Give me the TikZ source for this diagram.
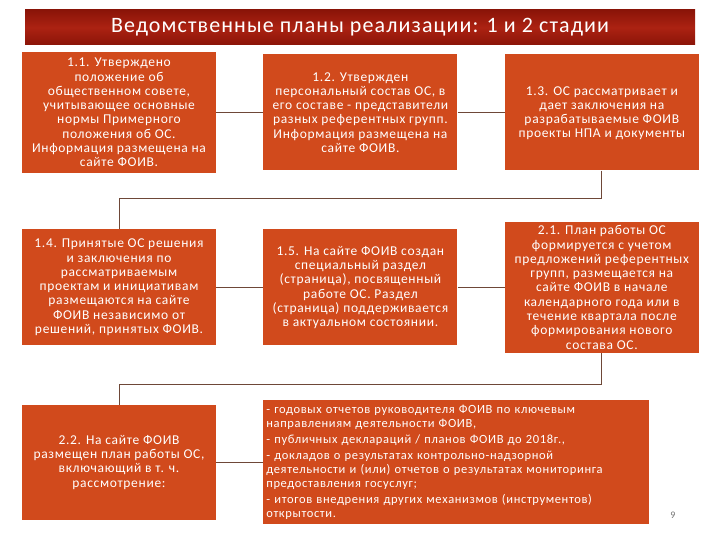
\documentclass[tikz,border=0pt]{standalone}
\usepackage{fontspec}
\setmainfont{Carlito}
\newfontfamily\widefont[LetterSpace=5]{Carlito}
\usepackage{tikz}
\usetikzlibrary{positioning}
\definecolor{boxred}{RGB}{209,74,28}
\definecolor{titlered}{RGB}{172,34,18}
\definecolor{titledark}{RGB}{138,20,8}
\definecolor{linkbrown}{RGB}{110,72,56}

\begin{document}
\begin{tikzpicture}[x=1pt,y=-1pt,
    stage/.style={align=center,fill=boxred,text=white,minimum width=194pt,inner sep=1pt,
        font=\widefont\fontsize{13.5}{14.3}\selectfont},
    link/.style={draw=linkbrown,line width=0.8pt}]
    \useasboundingbox (0,0) rectangle (720,540);
    \shade[top color=titledark,bottom color=titledark,middle color=titlered] (25,10) rectangle (695,45);
    \draw
        node[text=white,font=\widefont\fontsize{22}{26}\selectfont] (title) at (360,27.5) {Ведомственные планы реализации: 1 и 2 стадии}

        node[stage,minimum height=121pt] (s11) at (119,112.5) {1.1. Утверждено\\положение об\\общественном совете,\\учитывающее основные\\нормы Примерного\\положения об ОС.\\Информация размещена на\\сайте ФОИВ.}
        node[stage,minimum height=116pt,right=47pt of s11] (s12) {1.2. Утвержден\\персональный состав ОС, в\\его составе - представители\\разных референтных групп.\\Информация размещена на\\сайте ФОИВ.}
        node[stage,minimum height=116pt,right=47pt of s12] (s13) {\mbox{}\\[-4pt]1.3. ОС рассматривает и\\дает заключения на\\разрабатываемые ФОИВ\\проекты НПА и документы}

        node[stage,minimum height=116pt,below=56pt of s11] (s14) {1.4. Принятые ОС решения\\и заключения по\\рассматриваемым\\проектам и инициативам\\размещаются на сайте\\ФОИВ независимо от\\решений, принятых ФОИВ.}
        node[stage,minimum height=116pt,right=47pt of s14] (s15) {1.5. На сайте ФОИВ создан\\специальный раздел\\(страница), посвященный\\работе ОС. Раздел\\(страница) поддерживается\\в актуальном состоянии.}
        node[stage,minimum height=131pt,right=47pt of s15] (s21) {2.1. План работы ОС\\формируется с учетом\\предложений референтных\\групп, размещается на\\сайте ФОИВ в начале\\календарного года или в\\течение квартала после\\формирования нового\\состава ОС.}

        node[stage,minimum height=115pt,below=59pt of s14] (s22) {2.2. На сайте ФОИВ\\размещен план работы ОС,\\включающий в т. ч.\\рассмотрение:}
        node[stage,align=left,text width=380pt,minimum height=124pt,inner sep=3pt,
            font=\widefont\fontsize{12.5}{14}\selectfont,right=47pt of s22] (review) {- годовых отчетов руководителя ФОИВ по ключевым\\направлениям деятельности ФОИВ,\\[2pt]- публичных деклараций / планов ФОИВ до 2018г.,\\[2pt]- докладов о результатах контрольно-надзорной\\деятельности и (или) отчетов о результатах мониторинга\\предоставления госуслуг;\\[2pt]- итогов внедрения других механизмов (инструментов)\\открытости.}

        node[text=black!55,font=\fontsize{10}{12}\selectfont] (pagenum) at (673,515) {9}
    ;
    \draw[link] (s11)-- (s12);
    \draw[link] (s12)-- (s13);
    \draw[link] (s13.south)-- ++(0,28)-| (s14.north);
    \draw[link] (s14)-- (s15);
    \draw[link] (s15)-- (s21);
    \draw[link] (s21.south)-- ++(0,31)-| (s22.north);
    \draw[link] (s22)-- (review);
\end{tikzpicture}
\end{document}
